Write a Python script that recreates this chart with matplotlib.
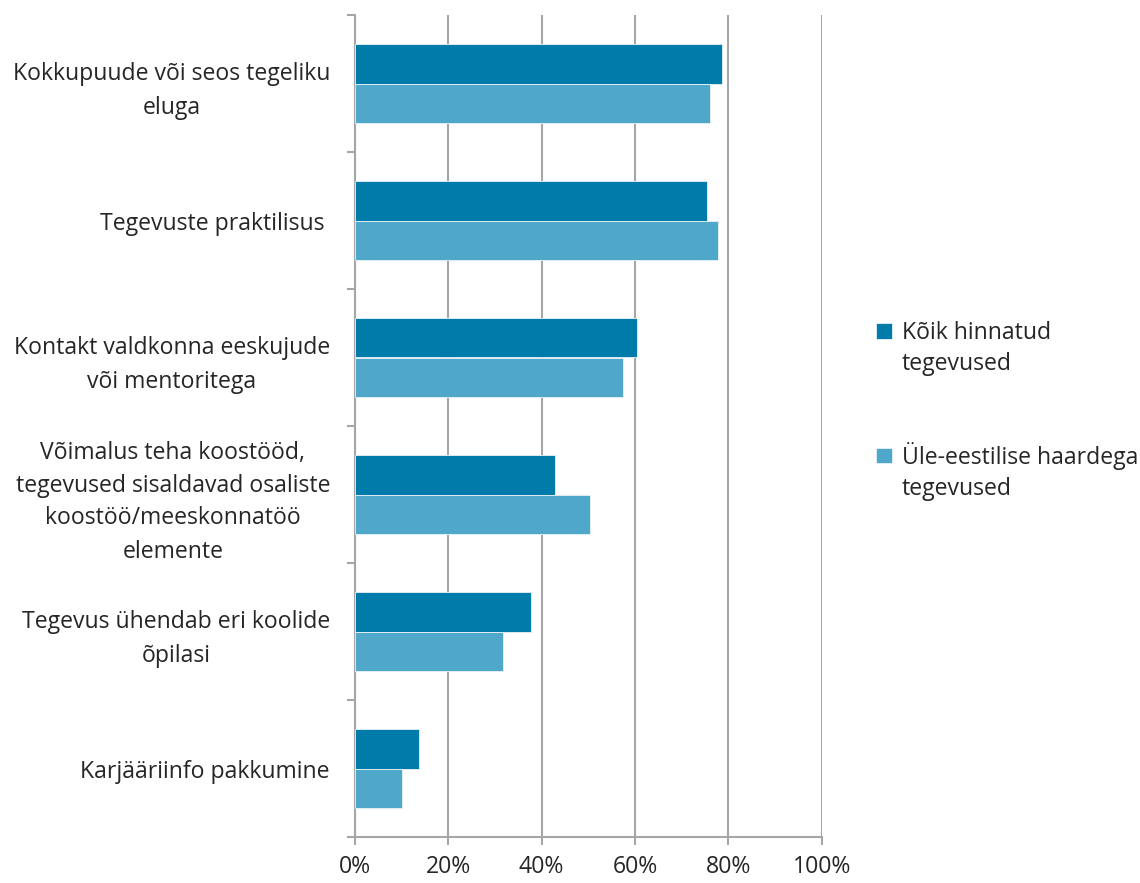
import matplotlib
matplotlib.use("Agg")
import matplotlib.pyplot as plt
import numpy as np

categories = [
    "Kokkupuude või seos tegeliku\neluga",
    "Tegevuste praktilisus ",
    "Kontakt valdkonna eeskujude\nvõi mentoritega",
    "Võimalus teha koostööd,\ntegevused sisaldavad osaliste\nkoostöö/meeskonnatöö\nelemente",
    "Tegevus ühendab eri koolide\nõpilasi",
    "Karjääriinfo pakkumine",
]
series_first = ["Kõik hinnatud", "Üle-eestilise haardega"]
series_second = ["tegevused", "tegevused"]
all_vals = [78.7, 75.5, 60.4, 42.9, 37.7, 13.8]
nat_vals = [76.0, 77.7, 57.4, 50.4, 31.8, 10.0]
xticks = [0, 20, 40, 60, 80, 100]
xtick_labels = ["0%", "20%", "40%", "60%", "80%", "100%"]

plt.rcParams['font.family'] = ['Open Sans', 'DejaVu Sans']
text_color = "#262626"
grid_color = "#A6A6A6"
c_dark = "#017BA9"
c_light = "#4FA7CA"
fs = 16.6

fig = plt.figure(figsize=(11.4, 8.83), dpi=100)
ax = fig.add_axes([355/1140, 1-837/883, (821.7-355)/1140, (837-15)/883])

n = len(categories)
y = np.arange(n)
h = 0.285
ax.barh(y - h/2, all_vals, height=h, color=c_dark, edgecolor="#e8f2f7", linewidth=0.6,
        label=series_first[0], zorder=3)
ax.barh(y + h/2, nat_vals, height=h, color=c_light, edgecolor="#e8f2f7", linewidth=0.6,
        label=series_first[1], zorder=3)

ax.set_ylim(n - 0.5, -0.5)
ax.set_xlim(0, 100)
ax.set_yticks(y)
ax.set_yticklabels(categories, fontsize=fs, color=text_color, linespacing=1.5)
for lab in ax.get_yticklabels():
    lab.set_multialignment('center')
ax.set_yticks(np.arange(-0.5, n + 0.5, 1), minor=True)
ax.tick_params(axis='y', which='major', length=0, pad=18)
ax.tick_params(axis='y', which='minor', length=6, width=1.5, color=grid_color, direction='out')

ax.set_xticks(xticks)
ax.set_xticklabels(xtick_labels, fontsize=fs, color=text_color)
ax.tick_params(axis='x', length=6, width=1.5, color=grid_color, direction='out', pad=7)

ax.grid(axis='x', color=grid_color, linewidth=1.5, zorder=0)
for s in ['top', 'right']:
    ax.spines[s].set_visible(False)
for s in ['left', 'bottom']:
    ax.spines[s].set_color(grid_color)
    ax.spines[s].set_linewidth(1.5)

leg = ax.legend(loc='upper left', bbox_to_anchor=(1.117, 0.628), frameon=False,
                fontsize=fs, handlelength=0.68, handleheight=0.68, handletextpad=0.42,
                labelspacing=4.2, labelcolor=text_color, borderaxespad=0, borderpad=0)

fig.canvas.draw()
inv = fig.transFigure.inverted()
for t, second in zip(leg.get_texts(), series_second):
    bb = t.get_window_extent()
    x0, y0 = inv.transform((bb.x0, bb.y0))
    fig.text(x0, y0 - 31/883, second, fontsize=fs, color=text_color, va='bottom', ha='left')

fig.savefig("out.png", dpi=100)
